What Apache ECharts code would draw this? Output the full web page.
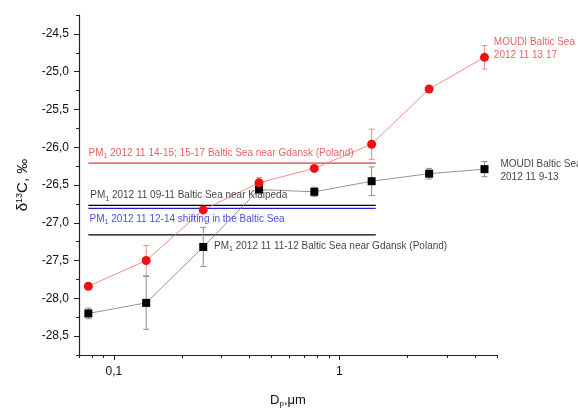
<!DOCTYPE html>
<html lang="en">
<head>
<meta charset="UTF-8">
<title>d13C vs Dp</title>
<script src="https://cdn.jsdelivr.net/npm/echarts@6.0.0/dist/echarts.min.js"></script>
<style>
html, body { margin: 0; padding: 0; background: #fff; }
#container { width: 578px; height: 409px; }
</style>
</head>
<body>
<div id="container"></div>
<script type="text/javascript">
// particle diameter, um
var dp = [0.077, 0.139, 0.249, 0.44, 0.774, 1.39, 2.5, 4.4];
// MOUDI 2012 11 13 17 (red) and 2012 11 9-13 (black)
var redVals = [-27.84, -27.50, -26.83, -26.47, -26.28, -25.96, -25.23, -24.81];
var redErr = [0, 0.2, 0, 0.07, 0, 0.2, 0, 0.155];
var blackVals = [-28.20, -28.06, -27.32, -26.56, -26.59, -26.45, -26.35, -26.29];
var blackErr = [0.07, 0.35, 0.26, 0, 0.06, 0.19, 0.07, 0.1];
// PM1 reference levels
var pmRange = [0.077, 1.45];
var pmLevels = [-26.21, -26.77, -26.81, -27.16];
var pmColors = ['#e03a3a', '#000000', '#2020d0', '#000000'];
var yLabels = [-28.5, -28, -27.5, -27, -26.5, -26, -25.5, -25, -24.5];
var yMinor = [-28.75, -28.25, -27.75, -27.25, -26.75, -26.25, -25.75, -25.25, -24.75, -24.25];
var xLabels = [0.1, 1];
var xMinor = [0.07, 0.08, 0.09, 0.2, 0.3, 0.4, 0.5, 0.6, 0.7, 0.8, 0.9, 2, 3, 4, 5];

var font = 'Liberation Sans, Arial, sans-serif';
var dom = document.getElementById('container');
var myChart = echarts.init(dom);

function comma(v) {
    return String(v).replace('.', ',');
}

function errData(vals, errs) {
    var out = [];
    for (var i = 0; i < vals.length; i++) {
        if (errs[i] > 0) out.push([dp[i], vals[i] - errs[i], vals[i] + errs[i]]);
    }
    return out;
}

function errSeries(vals, errs, color) {
    return {
        type: 'custom',
        xAxisIndex: 0,
        yAxisIndex: 0,
        z: 3,
        silent: true,
        data: errData(vals, errs),
        renderItem: function (params, api) {
            var lo = api.coord([api.value(0), api.value(1)]);
            var hi = api.coord([api.value(0), api.value(2)]);
            var st = { stroke: color, lineWidth: 1 };
            return {
                type: 'group',
                children: [
                    { type: 'line', shape: { x1: lo[0], y1: lo[1], x2: hi[0], y2: hi[1] }, style: st },
                    { type: 'line', shape: { x1: lo[0] - 3, y1: lo[1], x2: lo[0] + 3, y2: lo[1] }, style: st },
                    { type: 'line', shape: { x1: hi[0] - 3, y1: hi[1], x2: hi[0] + 3, y2: hi[1] }, style: st }
                ]
            };
        }
    };
}

var pmRich = {
    s: { fontSize: 7, padding: [6, 0, 0, 0], fontFamily: font }
};

var series = [];
pmLevels.forEach(function (lv, i) {
    series.push({
        type: 'line',
        silent: true,
        symbol: 'none',
        z: 1,
        lineStyle: { color: pmColors[i], width: 1.2 },
        data: [[pmRange[0], lv], [pmRange[1], lv]]
    });
});

series.push(errSeries(redVals, redErr, '#f08a8a'));
series.push(errSeries(blackVals, blackErr, '#8c8c8c'));

series.push({
    name: 'MOUDI 2012 11 9-13',
    type: 'line',
    z: 4,
    symbol: 'rect',
    symbolSize: 8,
    itemStyle: { color: '#000' },
    lineStyle: { color: '#7a7a7a', width: 0.8 },
    data: dp.map(function (d, i) { return [d, blackVals[i]]; })
});
series.push({
    name: 'MOUDI 2012 11 13 17',
    type: 'line',
    z: 5,
    symbol: 'circle',
    symbolSize: 9,
    itemStyle: { color: '#ee1111' },
    lineStyle: { color: '#f07070', width: 0.8 },
    data: dp.map(function (d, i) { return [d, redVals[i]]; })
});

// text annotations placed in data coordinates
function note(x, y, text, color) {
    return {
        value: [x, y],
        label: { show: true, formatter: text, color: color }
    };
}
series.push({
    type: 'scatter',
    silent: true,
    clip: false,
    symbolSize: 0,
    z: 6,
    label: {
        show: true,
        position: 'right',
        distance: 0,
        fontFamily: font,
        fontSize: 10,
        lineHeight: 13,
        rich: pmRich
    },
    data: [
        note(0.0772, -26.077, 'PM{s|1} 2012 11 14-15; 15-17 Baltic Sea near Gdansk (Poland)', '#e03a3a'),
        note(0.0785, -26.64, 'PM{s|1} 2012 11 09-11 Baltic Sea near Klaipeda', '#111'),
        note(0.078, -26.95, 'PM{s|1} 2012 11 12-14 shifting in the Baltic Sea', '#2020d0'),
        note(0.278, -27.31, 'PM{s|1} 2012 11 11-12 Baltic Sea near Gdansk (Poland)', '#111'),
        note(4.84, -24.695, 'MOUDI Baltic Sea\n2012 11 13 17', '#e03a3a'),
        note(5.18, -26.305, 'MOUDI Baltic Sea\n2012 11 9-13', '#111')
    ]
});

var option = {
    animation: false,
    backgroundColor: '#fff',
    grid: { left: 79, right: 81, top: 15, bottom: 54, containLabel: false, outerBoundsMode: 'none' },
    xAxis: [{
        type: 'log',
        logBase: 10,
        min: 0.07,
        max: 5,
        name: '{a|D}{b|p}{a|,\u03bcm}',
        nameLocation: 'middle',
        nameGap: 37,
        nameTextStyle: {
            rich: {
                a: { fontSize: 13, fontFamily: font, color: '#111' },
                b: { fontSize: 8, fontFamily: font, color: '#111', padding: [8, 0, 0, 0] }
            }
        },
        axisLine: { lineStyle: { color: '#222', width: 1.2 } },
        axisTick: { inside: false, length: 5, customValues: xLabels, lineStyle: { color: '#222' } },
        axisLabel: {
            customValues: xLabels,
            formatter: comma,
            fontFamily: font,
            fontSize: 12,
            color: '#111',
            margin: 11
        },
        splitLine: { show: false }
    }, {
        type: 'log',
        logBase: 10,
        min: 0.07,
        max: 5,
        position: 'bottom',
        gridIndex: 0,
        axisLine: { show: false },
        axisTick: { inside: false, length: 3, customValues: xMinor, lineStyle: { color: '#222' } },
        axisLabel: { show: false },
        splitLine: { show: false }
    }],
    yAxis: [{
        type: 'value',
        min: -28.75,
        max: -24.25,
        name: '{a|\u03b4}{b|13}{a|C, \u2030}',
        nameLocation: 'middle',
        nameRotate: 90,
        nameGap: 40,
        nameTextStyle: {
            rich: {
                a: { fontSize: 15, fontFamily: font, color: '#111' },
                b: { fontSize: 9, fontFamily: font, color: '#111', padding: [0, 0, 8, 0] }
            }
        },
        axisLine: { show: true, lineStyle: { color: '#222', width: 1.2 } },
        axisTick: { show: true, inside: false, length: 5, customValues: yLabels, lineStyle: { color: '#222' } },
        axisLabel: {
            customValues: yLabels,
            formatter: function (v) { return v.toFixed(1).replace('.', ','); },
            fontFamily: font,
            fontSize: 12,
            color: '#111',
            margin: 10
        },
        splitLine: { show: false }
    }, {
        type: 'value',
        min: -28.75,
        max: -24.25,
        position: 'left',
        gridIndex: 0,
        axisLine: { show: false },
        axisTick: { show: true, inside: false, length: 3, customValues: yMinor, lineStyle: { color: '#222' } },
        axisLabel: { show: false },
        splitLine: { show: false }
    }],
    series: series
};

myChart.setOption(option);
</script>
</body>
</html>
